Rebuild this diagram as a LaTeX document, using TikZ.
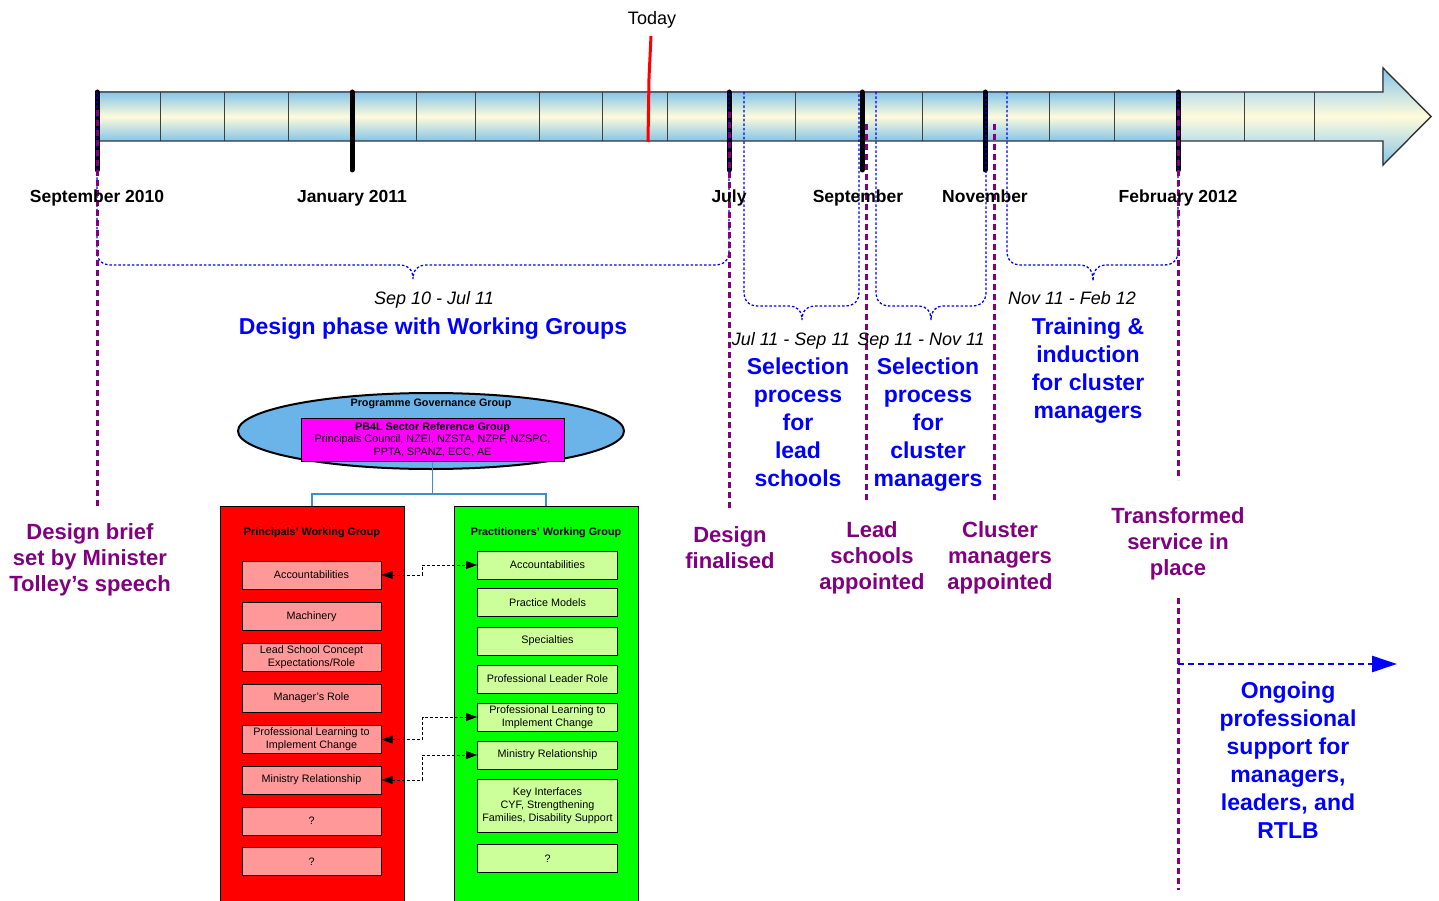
\documentclass[tikz,border=0pt]{standalone}
\usepackage{fontspec}
\setmainfont{Liberation Sans}
\usetikzlibrary{arrows.meta,shapes.geometric,calc}
\definecolor{purp}{HTML}{800080}
\definecolor{tlblue}{HTML}{84C5EA}
\definecolor{tlpale}{HTML}{BFE0EA}
\definecolor{tlcream}{HTML}{FFFBDA}
\definecolor{ellfill}{HTML}{6AB4EA}
\definecolor{orgline}{HTML}{3F8FCB}
\definecolor{redi}{HTML}{FF9999}
\definecolor{grni}{HTML}{CCFF99}
\definecolor{magpure}{HTML}{FF00FF}
\definecolor{redpure}{HTML}{FF0000}
\definecolor{grnpure}{HTML}{00FF00}
\definecolor{bluepure}{HTML}{0000FF}
\newcommand\tlbrace[5]{%
 \draw[bluedot] (#1,92) -- (#1,{#3-14}) .. controls (#1,{#3-5}) and ({#1+5},#3) .. ({#1+14},#3)
   -- ({#4-12},#3) .. controls ({#4-5},#3) and (#4,{#3+5}) .. (#4,#5)
   .. controls (#4,{#3+5}) and ({#4+5},#3) .. ({#4+12},#3)
   -- ({#2-14},#3) .. controls ({#2-5},#3) and (#2,{#3-5}) .. (#2,{#3-14}) -- (#2,92);}
\begin{document}
\begin{tikzpicture}[x=1pt,y=-1pt,
 month/.style={font=\fontsize{17.5}{20}\selectfont\bfseries, inner sep=0pt, anchor=base},
 datelbl/.style={font=\fontsize{18}{20}\selectfont\itshape, inner sep=0pt, anchor=base},
 bluelbl/.style={text=bluepure, font=\fontsize{23}{28}\selectfont\bfseries, align=center, inner sep=0pt},
 purplbl/.style={text=purp, font=\fontsize{22}{26}\selectfont\bfseries, align=center, inner sep=0pt},
 tickline/.style={draw=black, line width=5pt, line cap=round},
 divider/.style={draw=black!75, line width=1pt},
 purpdash/.style={draw=purp, line width=3pt, dash pattern=on 6pt off 4pt},
 bluedot/.style={draw=bluepure, line width=1.3pt, dash pattern=on 2.5pt off 2pt},
 grp/.style={draw=black, line width=1pt, minimum width=184pt, minimum height=404pt, inner sep=0pt},
 grptitle/.style={font=\fontsize{10.8}{12}\selectfont\bfseries, inner sep=0pt, anchor=base},
 item/.style={draw=black, line width=1pt, minimum height=28pt, inner sep=0pt, align=center, font=\fontsize{10.8}{13}\selectfont},
 reditem/.style={item, fill=redi, minimum width=139pt},
 grnitem/.style={item, fill=grni, minimum width=140pt},
 orgarr/.style={draw=black, line width=0.9pt, dash pattern=on 3pt off 2pt, arrows={Triangle[length=11pt,width=8pt]-Triangle[length=11pt,width=8pt]}},
 orgconn/.style={draw=orgline, line width=1.3pt},
 ongoing/.style={draw=bluepure, line width=2.5pt, dash pattern=on 6pt off 4pt, arrows={-Triangle[length=25pt,width=16pt]}},
]
\useasboundingbox (0,0) rectangle (1439,901);

% ---------- timeline arrow ----------
\shade[top color=tlblue, bottom color=tlblue, middle color=tlcream] (97,92) rectangle (1178,141);
\shade[top color=tlpale, bottom color=tlpale, middle color=tlcream] (1178,92) rectangle (1383,141);
\shade[top color=tlblue, bottom color=tlblue, middle color=tlcream] (1382,68) -- (1431,116.5) -- (1382,165) -- cycle;
\foreach \x in {160,224,288,416,475,539,602,667,795,922,1049,1114,1244,1314}
  \draw[divider] (\x,92) -- (\x,141);
\draw[black!80, line width=1.4pt, line join=miter] (97,92) -- (1383,92) -- (1383,68) -- (1431,116.5) -- (1383,165) -- (1383,141) -- (97,141);

% ticks
\coordinate (tSep) at (97,92);
\coordinate (tJan) at (352,92);
\coordinate (tJul) at (729,92);
\coordinate (tSept) at (862,92);
\coordinate (tNov) at (985,92);
\coordinate (tFeb) at (1178,92);
\foreach \c in {tSep,tJan,tJul,tSept,tNov,tFeb}
  \draw[tickline] (\c) -- ++(0,78);

% braces
\tlbrace{97}{729}{265}{413}{279}
\tlbrace{744}{859}{306}{802}{320}
\tlbrace{876}{986}{306}{931}{320}
\tlbrace{1007}{1178}{265}{1093}{281}

% purple drop lines
\coordinate (pA1) at (97,110);   \coordinate (pA2) at (97,508);
\coordinate (pB1) at (729,112);  \coordinate (pB2) at (729,508);
\coordinate (pC1) at (866,124);  \coordinate (pC2) at (866,503);
\coordinate (pD1) at (994,124);  \coordinate (pD2) at (994,503);
\coordinate (pE1) at (1178,110); \coordinate (pE2) at (1178,480);
\coordinate (pF1) at (1178,598); \coordinate (pF2) at (1178,890);
\draw[purpdash] (pA1) -- (pA2);
\draw[purpdash] (pB1) -- (pB2);
\draw[purpdash] (pC1) -- (pC2);
\draw[purpdash] (pD1) -- (pD2);
\draw[purpdash] (pE1) -- (pE2);
\draw[purpdash] (pF1) -- (pF2);

% today
\node[font=\fontsize{18}{20}\selectfont, inner sep=0pt, anchor=base] (today) at (652,24.5) {Today};
\coordinate (td1) at (651,36); \coordinate (td2) at (649,78); \coordinate (td3) at (648,142);
\draw[redpure, line width=3pt] (td1) -- (td2) -- (td3);

% month labels
\node[month] (mSep) at (97,203) {September 2010};
\node[month] (mJan) at (352,203) {January 2011};
\node[month] (mJul) at (729,203) {July};
\node[month] (mSept) at (858,203) {September};
\node[month] (mNov) at (985,203) {November};
\node[month] (mFeb) at (1178,203) {February 2012};

% date labels
\node[datelbl] (d1) at (434,304.5) {Sep 10 - Jul 11};
\node[datelbl] (d2) at (791,345.5) {Jul 11 - Sep 11};
\node[datelbl] (d3) at (921,345.5) {Sep 11 - Nov 11};
\node[datelbl] (d4) at (1072,304.5) {Nov 11 - Feb 12};

% blue phase labels
\node[bluelbl, anchor=base] (b1) at (433,334) {Design phase with Working Groups};
\node[bluelbl] (b2) at (798,422) {Selection\\process\\for\\lead\\schools};
\node[bluelbl] (b3) at (928,424.5) {Selection\\process\\for\\cluster\\managers};
\node[bluelbl] (b4) at (1088,371) {Training \&\\induction\\for cluster\\managers};
\node[bluelbl] (b5) at (1288,760) {Ongoing\\professional\\support for\\managers,\\leaders, and\\RTLB};

% purple milestone labels
\node[purplbl] (m1) at (90,560) {Design brief\\set by Minister\\Tolley’s speech};
\node[purplbl] (m2) at (730,548) {Design\\finalised};
\node[purplbl] (m3) at (872,558) {Lead\\schools\\appointed};
\node[purplbl] (m4) at (1000,558) {Cluster\\managers\\appointed};
\node[purplbl] (m5) at (1178,543.5) {Transformed\\service in\\place};

% ongoing arrow
\coordinate (og1) at (1178,664); \coordinate (og2) at (1397,664);
\draw[ongoing] (og1) -- (og2);

% ---------- org chart ----------
\node[ellipse, draw=black, line width=2pt, fill=ellfill, minimum width=386pt, minimum height=76pt, inner sep=0pt] (pgg) at (431,431) {};
\node[grptitle] (pggt) at (431,406) {Programme Governance Group};
\node[draw=black, line width=1pt, fill=magpure, minimum width=263pt, minimum height=43pt, inner sep=0pt, align=center, font=\fontsize{10.8}{12.5}\selectfont] (pb4l) at (432.5,439.5) {\textbf{PB4L Sector Reference Group}\\Principals Council, NZEI, NZSTA, NZPF, NZSPC,\\PPTA, SPANZ, ECC, AE};

\node[grp, fill=redpure] (pwg) at (312,708) {};
\node[grp, fill=grnpure] (prwg) at (546,708) {};
\coordinate (jn) at (432.5,494);
\draw[orgconn] (pb4l.south) -- (jn) -| (pwg.north);
\draw[orgconn] (jn) -| (prwg.north);

\node[grptitle] (pwgt) at (312,535) {Principals’ Working Group};
\node[grptitle] (prwgt) at (546,535) {Practitioners’ Working Group};

\node[reditem] (r1) at (311.5,575) {Accountabilities};
\node[reditem] (r2) at (311.5,616.5) {Machinery};
\node[reditem] (r3) at (311.5,657.5) {Lead School Concept\\Expectations/Role};
\node[reditem] (r4) at (311.5,698) {Manager’s Role};
\node[reditem] (r5) at (311.5,739.5) {Professional Learning to\\Implement Change};
\node[reditem] (r6) at (311.5,780) {Ministry Relationship};
\node[reditem] (r7) at (311.5,821) {?};
\node[reditem] (r8) at (311.5,861.5) {?};

\node[grnitem] (g1) at (547.5,565) {Accountabilities};
\node[grnitem] (g2) at (547.5,602.5) {Practice Models};
\node[grnitem] (g3) at (547.5,641) {Specialties};
\node[grnitem] (g4) at (547.5,679) {Professional Leader Role};
\node[grnitem] (g5) at (547.5,717) {Professional Learning to\\Implement Change};
\node[grnitem] (g6) at (547.5,755) {Ministry Relationship};
\node[grnitem, minimum height=53pt] (g7) at (547.5,806) {Key Interfaces\\CYF, Strengthening\\Families, Disability Support};
\node[grnitem] (g8) at (547.5,858.7) {?};

\draw[orgarr] (r1.east) -- ($(r1.east)+(41,0)$) |- (g1.west);
\draw[orgarr] (r5.east) -- ($(r5.east)+(41,0)$) |- (g5.west);
\draw[orgarr] (r6.east) -- ($(r6.east)+(41,0)$) |- (g6.west);
\end{tikzpicture}
\end{document}
